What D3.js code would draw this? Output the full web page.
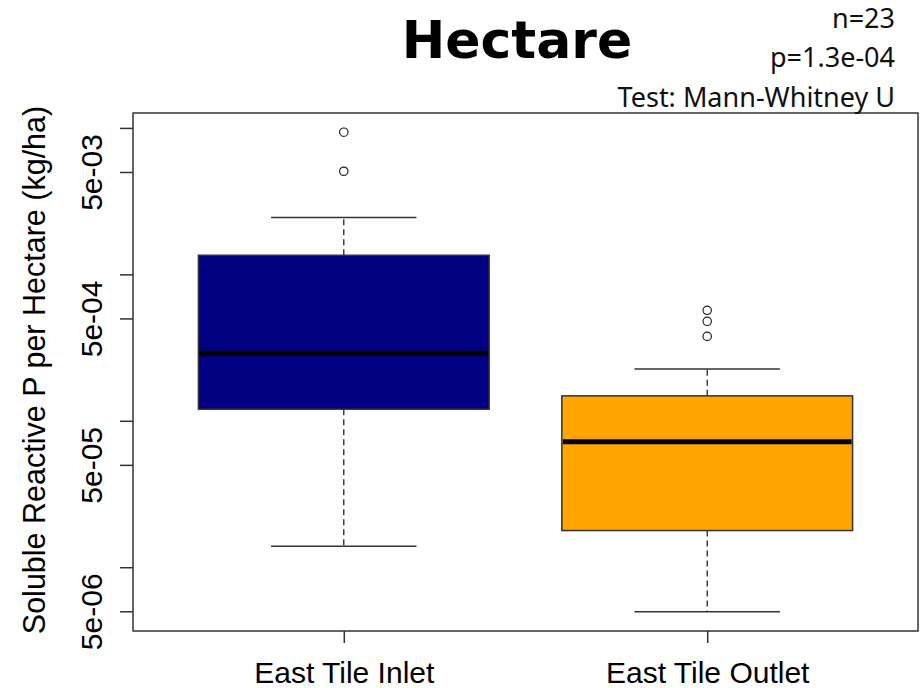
<!DOCTYPE html>
<html><head><meta charset="utf-8">
<script src="https://cdn.jsdelivr.net/npm/d3@7"></script>
<style>body{margin:0;background:#fff}svg{display:block}</style>
</head><body>
<svg id="c" width="920" height="688"></svg>
<script>
const categories = ["East Tile Inlet", "East Tile Outlet"];
const lowerWhisker = [1.39e-5, 4.96e-6];
const q1 = [1.20e-4, 1.78e-5];
const median = [2.89e-4, 7.18e-5];
const q3 = [1.35e-3, 1.48e-4];
const upperWhisker = [2.44e-3, 2.26e-4];
const outliers = [[5.06e-3, 9.35e-3], [3.77e-4, 4.78e-4, 5.68e-4]];
const fills = ["#000080", "#FFA500"];
const yTickValues = [5e-6, 1e-5, 5e-5, 1e-4, 5e-4, 1e-3, 5e-3, 1e-2];
const yTickLabels = ["5e-06", "", "5e-05", "", "5e-04", "", "5e-03", ""];
const title = "Hectare";
const statsText = ["n=23", "p=1.3e-04", "Test: Mann-Whitney U"];
const yTitle = "Soluble Reactive P per Hectare (kg/ha)";

const svg = d3.select("#c");
const L = 133, R = 918, T = 113, B = 631;

// y domain: data range extended 4% in log space (R style)
const allVals = [].concat(lowerWhisker, upperWhisker, ...outliers);
const lmin = Math.log10(d3.min(allVals)), lmax = Math.log10(d3.max(allVals));
const ext = (lmax - lmin) * 0.04;
const y = d3.scaleLog().domain([Math.pow(10, lmin - ext), Math.pow(10, lmax + ext)]).range([B, T]);
const x = d3.scaleLinear().domain([0.42, 2.58]).range([L, R]);
const unit = x(1) - x(0);
const boxW = 0.8 * unit, capW = 0.4 * unit;
const font = "'Liberation Sans', Arial, sans-serif";
const stroke = "#333";

const g = svg.append("g");
categories.forEach((c, i) => {
  const cx = x(i + 1);
  g.append("line").attr("x1", cx).attr("x2", cx).attr("y1", y(q3[i])).attr("y2", y(upperWhisker[i]))
    .attr("stroke", "#222").attr("stroke-width", 1.3).attr("stroke-dasharray", "6,4");
  g.append("line").attr("x1", cx).attr("x2", cx).attr("y1", y(q1[i])).attr("y2", y(lowerWhisker[i]))
    .attr("stroke", "#222").attr("stroke-width", 1.3).attr("stroke-dasharray", "6,4");
  [upperWhisker[i], lowerWhisker[i]].forEach(v => {
    g.append("line").attr("x1", cx - capW / 2).attr("x2", cx + capW / 2).attr("y1", y(v)).attr("y2", y(v))
      .attr("stroke", stroke).attr("stroke-width", 1.5);
  });
  g.append("rect").attr("x", cx - boxW / 2).attr("width", boxW)
    .attr("y", y(q3[i])).attr("height", y(q1[i]) - y(q3[i]))
    .attr("fill", fills[i]).attr("stroke", stroke).attr("stroke-width", 1.5);
  g.append("line").attr("x1", cx - boxW / 2 + 1).attr("x2", cx + boxW / 2 - 1).attr("y1", y(median[i])).attr("y2", y(median[i]))
    .attr("stroke", "#000").attr("stroke-width", 5);
  outliers[i].forEach(v => {
    g.append("circle").attr("cx", cx).attr("cy", y(v)).attr("r", 4.2)
      .attr("fill", "none").attr("stroke", "#222").attr("stroke-width", 1.2);
  });
});

svg.append("rect").attr("x", L).attr("y", T).attr("width", R - L).attr("height", B - T)
  .attr("fill", "none").attr("stroke", stroke).attr("stroke-width", 1.5);

const yAxis = d3.axisLeft(y).tickValues(yTickValues).tickSize(13).tickPadding(0)
  .tickFormat((d, i) => yTickLabels[i]);
const ya = svg.append("g").attr("transform", `translate(${L},0)`).call(yAxis);
ya.select(".domain").remove();
ya.selectAll(".tick line").attr("stroke", stroke).attr("stroke-width", 1.5);
ya.selectAll(".tick text").attr("font-family", font).attr("font-size", 30).attr("fill", "#000")
  .attr("text-anchor", "middle").attr("transform", "translate(-42,0) rotate(-90)").attr("x", 0).attr("dy", "0.35em");

const xAxis = d3.axisBottom(x).tickValues([1, 2]).tickSize(12).tickPadding(19)
  .tickFormat((d, i) => categories[i]);
const xa = svg.append("g").attr("transform", `translate(0,${B})`).call(xAxis);
xa.select(".domain").remove();
xa.selectAll(".tick line").attr("stroke", stroke).attr("stroke-width", 1.5);
xa.selectAll(".tick text").attr("font-family", font).attr("font-size", 30).attr("fill", "#000");

svg.append("text").attr("transform", `translate(45,${(T + B) / 2 - 2}) rotate(-90)`)
  .attr("text-anchor", "middle").attr("font-family", font).attr("font-size", 30.5).attr("fill", "#000")
  .text(yTitle);

svg.append("text").attr("x", 517).attr("y", 58).attr("text-anchor", "middle")
  .attr("font-family", "'DejaVu Sans', sans-serif").attr("font-weight", "bold").attr("font-size", 52)
  .attr("fill", "#000").text(title);

const sy = [28, 67, 107];
statsText.forEach((t, i) => {
  svg.append("text").attr("x", 895).attr("y", sy[i]).attr("text-anchor", "end")
    .attr("font-family", "'Noto Sans', sans-serif").attr("font-size", 27).attr("fill", "#111").text(t);
});
</script>
</body></html>
